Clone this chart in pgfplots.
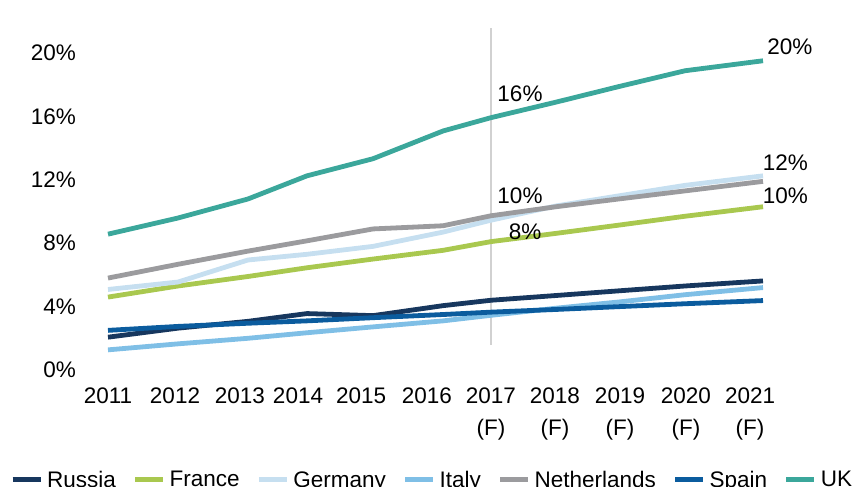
\documentclass[border=0pt]{standalone}
\usepackage{fontspec}
\setmainfont{Liberation Sans}
\usepackage{pgfplots}
\pgfplotsset{compat=1.18}
\definecolor{cRussia}{HTML}{17375E}
\definecolor{cFrance}{HTML}{A9C84F}
\definecolor{cGermany}{HTML}{C6DFF0}
\definecolor{cItaly}{HTML}{7FBFE6}
\definecolor{cNeth}{HTML}{9B9B9E}
\definecolor{cSpain}{HTML}{0B5C9E}
\definecolor{cUK}{HTML}{3BA79B}
\begin{document}
\begin{tikzpicture}
\useasboundingbox (0,0) rectangle (859pt,487pt);
\clip (0,0) rectangle (859pt,487pt);
\begin{axis}[
  at={(108pt,117pt)}, anchor=south west,
  scale only axis, width=655pt, height=317pt,
  xmin=0, xmax=10, ymin=0, ymax=20,
  clip=false,
  axis line style={draw=none},
  major tick length=0pt,
  /pgf/number format/assume math mode=true,
  font=\fontsize{22.5}{32}\selectfont,
  ytick={0,4,8,12,16,20},
  yticklabels={0\%,4\%,8\%,12\%,16\%,20\%},
  yticklabel style={anchor=east, inner sep=0pt, xshift=-32pt},
  xtick={0,1.023,2.015,2.901,3.863,4.870,5.847,6.824,7.817,8.824,9.802},
  xticklabels={2011,2012,2013,2014,2015,2016,{2017\\(F)},{2018\\(F)},{2019\\(F)},{2020\\(F)},{2021\\(F)}},
  xticklabel style={anchor=north, align=center, inner sep=0pt, yshift=-18pt},
  legend columns=7,
  legend style={draw=none, fill=none, at={(-0.1496,-0.347)}, anchor=west,
    inner sep=0pt, nodes={inner sep=0pt}, font=\fontsize{22.5}{27}\selectfont,
    /tikz/every odd column/.append style={column sep=4pt},
    /tikz/every even column/.append style={column sep=16.7pt}},
  legend image code/.code={\draw[#1, line width=5pt] (0pt,0pt) -- (28pt,0pt);},
  every axis plot/.append style={line width=4.8pt, line join=round},
]
% vertical separator at 2017
\draw[color=black!18, line width=1.5pt] (axis cs:5.847,1.6) -- (axis cs:5.847,21.6);
\addplot[cRussia] coordinates {(0,2.07) (1.069,2.64) (2.137,3.07) (3.038,3.56) (4.046,3.43) (5.115,4.06) (5.847,4.40) (6.840,4.70) (7.817,5.00) (8.809,5.30) (10,5.62)};
\addlegendentry{Russia}
\addplot[cFrance] coordinates {(0,4.60) (1.069,5.30) (2.137,5.90) (3.038,6.45) (4.046,7.00) (5.115,7.55) (5.847,8.10) (6.840,8.62) (7.817,9.15) (8.809,9.70) (10,10.30)};
\addlegendentry{France}
\addplot[cGermany] coordinates {(0,5.08) (1.069,5.55) (2.137,6.94) (3.038,7.30) (4.046,7.80) (5.115,8.70) (5.847,9.45) (6.840,10.35) (7.817,11.00) (8.809,11.65) (10,12.25)};
\addlegendentry{Germany}
\addplot[cItaly] coordinates {(0,1.27) (1.069,1.65) (2.137,2.00) (3.038,2.35) (4.046,2.72) (5.115,3.10) (5.847,3.45) (6.840,3.90) (7.817,4.30) (8.809,4.75) (10,5.20)};
\addlegendentry{Italy}
\addplot[cNeth] coordinates {(0,5.80) (1.069,6.67) (2.137,7.50) (3.038,8.15) (4.046,8.90) (5.115,9.10) (5.847,9.73) (6.840,10.30) (7.817,10.80) (8.809,11.30) (10,11.90)};
\addlegendentry{Netherlands}
\addplot[cSpain] coordinates {(0,2.50) (1.069,2.75) (2.137,2.95) (3.038,3.10) (4.046,3.30) (5.115,3.50) (5.847,3.65) (6.840,3.82) (7.817,4.00) (8.809,4.18) (10,4.38)};
\addlegendentry{Spain}
\addplot[cUK] coordinates {(0,8.57) (1.069,9.59) (2.137,10.79) (3.038,12.25) (4.046,13.33) (5.115,15.08) (5.847,15.92) (6.840,16.90) (7.817,17.90) (8.809,18.88) (10,19.51)};
\addlegendentry{UK}
\node[inner sep=0pt] at (axis cs:6.29,17.42) {16\%};
\node[inner sep=0pt] at (axis cs:10.41,20.38) {20\%};
\node[inner sep=0pt] at (axis cs:6.29,10.98) {10\%};
\node[inner sep=0pt] at (axis cs:6.37,8.71) {8\%};
\node[inner sep=0pt] at (axis cs:10.34,13.06) {12\%};
\node[inner sep=0pt] at (axis cs:10.34,10.98) {10\%};
\end{axis}
\end{tikzpicture}
\end{document}
